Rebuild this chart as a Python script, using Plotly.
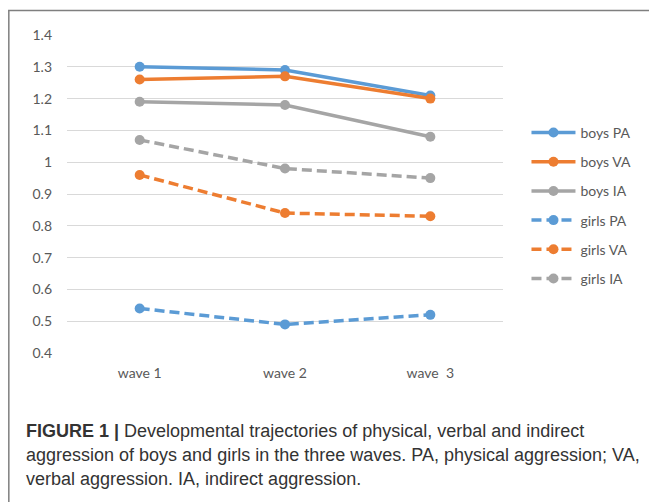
import plotly.graph_objects as go

waves = ["wave 1", "wave 2", "wave \u00a03"]
boys_pa = [1.30, 1.29, 1.21]
boys_va = [1.26, 1.27, 1.20]
boys_ia = [1.19, 1.18, 1.08]
girls_pa = [0.54, 0.49, 0.52]
girls_va = [0.96, 0.84, 0.83]
girls_ia = [1.07, 0.98, 0.95]
y_ticks = [0.4, 0.5, 0.6, 0.7, 0.8, 0.9, 1.0, 1.1, 1.2, 1.3, 1.4]
y_ticktext = ["0.4", "0.5", "0.6", "0.7", "0.8", "0.9", "1", "1.1", "1.2", "1.3", "1.4"]

BLUE, ORANGE, GRAY = "#5B9BD5", "#ED7D31", "#A5A5A5"
series = [
    ("boys PA", boys_pa, BLUE, "solid"),
    ("boys VA", boys_va, ORANGE, "solid"),
    ("boys IA", boys_ia, GRAY, "solid"),
    ("girls PA", girls_pa, BLUE, "10px,5px"),
    ("girls VA", girls_va, ORANGE, "10px,5px"),
    ("girls IA", girls_ia, GRAY, "10px,5px"),
]

# page body has an 8px margin: figure origin sits at window (8, 8)
OFF = 8
W, H = 657 - OFF, 502 - OFF
# plot area in window pixels
L, R, T, B = 67, 503.5, 35, 353.3

def px(x):  # window x -> paper
    return (x - L) / (R - L)

def py(y):  # window y -> paper
    return (B - y) / (B - T)

fig = go.Figure()
for i, (name, vals, col, dash) in enumerate(series):
    fig.add_trace(go.Scatter(
        x=waves, y=vals, name=name, mode="lines+markers",
        line=dict(color=col, width=3.5, dash=dash),
        marker=dict(color=col, size=10, symbol="circle"),
        legendgroup=f"g{i}",
    ))

FONT = "Lato, Carlito, 'Open Sans', sans-serif"
fig.update_layout(
    width=W, height=H,
    margin=dict(l=L - OFF, r=W - (R - OFF), t=T - OFF, b=H - (B - OFF), pad=0),
    paper_bgcolor="white", plot_bgcolor="white",
    font=dict(family=FONT, size=14, color="#595959"),
    showlegend=True,
    legend=dict(
        x=px(527), y=py(117), xanchor="left", yanchor="top",
        font=dict(family=FONT, size=14, color="#595959"),
        tracegroupgap=8, bgcolor="rgba(0,0,0,0)", itemwidth=44,
    ),
    xaxis=dict(
        type="category", range=[-0.5, 2.5], showgrid=False, zeroline=False,
        showline=False, ticks="", ticklabelstandoff=10,
        tickfont=dict(family=FONT, size=14, color="#595959"),
    ),
    yaxis=dict(
        range=[0.4, 1.4], tickvals=y_ticks, ticktext=y_ticktext,
        showgrid=True, gridcolor="#D9D9D9", gridwidth=1, zeroline=False,
        showline=False, ticks="", ticklabelstandoff=14,
        tickfont=dict(family=FONT, size=14, color="#595959"),
    ),
)

# outer frame (left and top edges)
fig.add_shape(type="line", xref="paper", yref="paper",
              x0=px(8.75), x1=px(8.75), y0=py(10.5), y1=py(H + OFF + 5),
              line=dict(color="#7F7F7F", width=1.5))
fig.add_shape(type="line", xref="paper", yref="paper",
              x0=px(8), x1=px(660), y0=py(10.5), y1=py(10.5),
              line=dict(color="#7F7F7F", width=1.5))

CAP = "'Liberation Sans', Arial, sans-serif"
cap_lines = [
    "<b>FIGURE 1 |</b> Developmental trajectories of physical, verbal and indirect",
    "aggression of boys and girls in the three waves. PA, physical aggression; VA,",
    "verbal aggression. IA, indirect aggression.",
]
cap_y = [431, 455, 479]
for t, yy in zip(cap_lines, cap_y):
    fig.add_annotation(text=t, xref="paper", yref="paper", x=px(24), y=py(yy),
                       xanchor="left", yanchor="middle", showarrow=False,
                       font=dict(family=CAP, size=18, color="#333333"), align="left")

fig.write_html("out.html")
